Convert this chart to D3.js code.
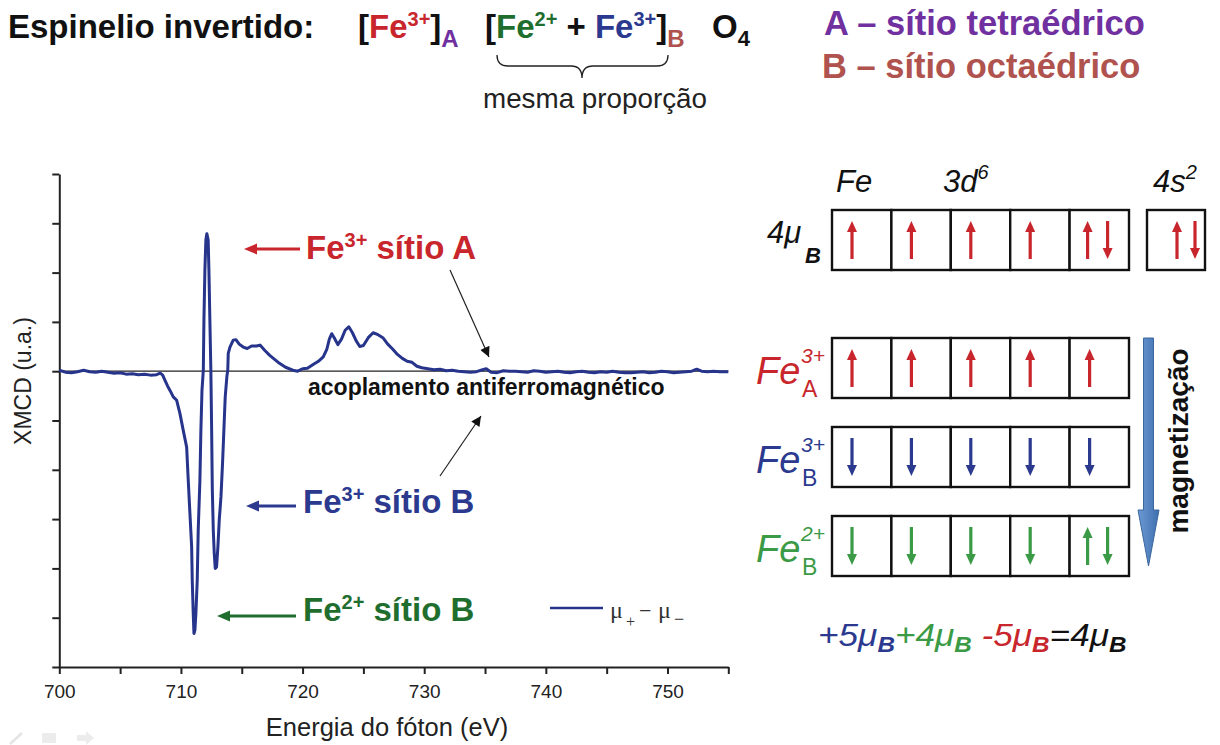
<!DOCTYPE html>
<html>
<head>
<meta charset="utf-8">
<script src="https://cdn.jsdelivr.net/npm/d3@7"></script>
<style>
  body { margin: 0; background: #fff; }
  svg { display: block; }
</style>
</head>
<body>
<svg id="fig" width="1220" height="745"></svg>
<script>
// ---- XMCD spectrum at the Fe L3 edge (photon energy in eV, dichroism in arbitrary units)
const energy = [
  700.0, 700.5, 701.0, 701.5, 702.0, 702.5, 703.0, 703.5, 704.0, 704.5,
  705.0, 705.5, 706.0, 706.5, 707.0, 707.5, 708.0, 708.3, 708.5, 708.68,
  708.9, 709.1, 709.37, 709.65, 709.92, 710.19, 710.47, 710.6, 710.74, 710.88,
  710.93, 711.01, 711.07, 711.15, 711.23, 711.34, 711.42, 711.56, 711.64, 711.73,
  711.84, 711.89, 711.97, 712.05, 712.13, 712.24, 712.3, 712.38, 712.46, 712.52,
  712.58, 712.66, 712.74, 712.82, 712.93, 713.04, 713.15, 713.29, 713.42, 713.53,
  713.64, 713.78, 713.85, 713.89, 714.03, 714.3, 714.52, 714.79, 715.12, 715.45,
  715.81, 716.22, 716.5, 716.9, 717.3, 717.7, 718.1, 718.6, 719.2, 719.6,
  720.0, 720.4, 720.9, 721.3, 721.7, 722.0, 722.2, 722.4, 722.6, 722.9,
  723.2, 723.5, 723.8, 724.1, 724.4, 724.7, 725.0, 725.4, 725.8, 726.2,
  726.6, 727.0, 727.4, 727.8, 728.2, 728.6, 729.0, 729.4, 729.8, 730.3,
  730.8, 731.3, 731.8, 732.3, 732.8, 733.3, 733.8, 734.3, 734.8, 735.1,
  735.5, 736.0, 736.5, 737.0, 737.5, 738.0, 738.5, 739.0, 739.5, 740.0,
  740.5, 741.0, 741.5, 742.0, 742.5, 743.0, 743.5, 744.0, 744.5, 745.0,
  745.5, 746.0, 746.5, 747.0, 747.5, 748.0, 748.5, 749.0, 749.5, 750.0,
  750.5, 751.0, 751.5, 752.0, 752.4, 752.8, 753.3, 753.8, 754.3, 755.0
];
const xmcd = [
  0.02, -0.02, -0.03, -0.01, 0.02, -0.01, -0.02, 0.00, -0.02, -0.04,
  -0.03, -0.06, -0.05, -0.07, -0.06, -0.08, -0.07, -0.04, -0.08, -0.18,
  -0.30, -0.39, -0.52, -0.59, -0.86, -1.20, -1.54, -2.21, -2.89, -3.56,
  -4.24, -4.91, -5.32, -5.25, -4.91, -4.24, -3.23, -2.21, -1.20, -0.39,
  0.02, 1.03, 2.05, 2.66, 2.79, 2.66, 2.05, 1.03, 0.02, -1.10,
  -2.40, -3.23, -3.70, -4.00, -3.97, -3.56, -3.02, -2.55, -1.87, -1.20,
  -0.52, -0.10, 0.02, 0.36, 0.49, 0.63, 0.64, 0.55, 0.49, 0.46,
  0.51, 0.51, 0.53, 0.42, 0.32, 0.24, 0.16, 0.08, 0.02, 0.00,
  0.05, 0.06, 0.14, 0.20, 0.29, 0.45, 0.65, 0.76, 0.68, 0.54,
  0.65, 0.83, 0.90, 0.78, 0.62, 0.50, 0.52, 0.68, 0.78, 0.74,
  0.68, 0.55, 0.45, 0.34, 0.26, 0.20, 0.18, 0.10, 0.07, 0.05,
  0.03, 0.04, 0.01, 0.02, 0.00, -0.01, -0.02, -0.01, 0.03, 0.05,
  -0.02, -0.03, 0.01, 0.00, 0.00, -0.01, -0.02, 0.01, 0.00, -0.02,
  -0.01, 0.00, -0.02, -0.03, -0.01, 0.00, -0.02, -0.03, -0.01, -0.02,
  0.00, -0.02, -0.03, -0.03, -0.02, -0.01, -0.03, -0.02, 0.00, -0.01,
  -0.03, -0.02, -0.01, 0.00, 0.04, 0.00, -0.01, 0.00, -0.01, -0.01
];
const xTickValues = [700, 705, 710, 715, 720, 725, 730, 735, 740, 745, 750, 755];
const xTickLabels = ["700", "", "710", "", "720", "", "730", "", "740", "", "750", ""];
const yTickValues = [-6, -5, -4, -3, -2, -1, 0, 1, 2, 3, 4];

// ---- orbital occupation (3d boxes), one array per ion
const orbitalSlots = [0, 1, 2, 3, 4];
const feAtomSpins = [["up"], ["up"], ["up"], ["up"], ["up", "down"]];
const fe4sSpins = ["up", "down"];
const ionLabels = [
  { sup: "3+", sub: "A" },
  { sup: "3+", sub: "B" },
  { sup: "2+", sub: "B" }
];
const ionSpins = [
  [["up"], ["up"], ["up"], ["up"], ["up"]],
  [["down"], ["down"], ["down"], ["down"], ["down"]],
  [["down"], ["down"], ["down"], ["down"], ["up", "down"]]
];
const momentTerms = ["+5μ", "+4μ", " -5μ", "=4μ"];

// ---- palette
const RED = "#c8262c", NAVY = "#2b3a8f", GREEN_DARK = "#1f6e2e", GREEN = "#3a9a45";
const PURPLE = "#7030a0", ROSE = "#b0524e", CURVE = "#27348b";
const ionColors = [RED, NAVY, GREEN];
const momentColors = [NAVY, GREEN, RED, "#111"];

const SANS = "'Liberation Sans', Arial, Helvetica, sans-serif";
const SERIF = "'Liberation Serif', 'Times New Roman', serif";

const svg = d3.select("#fig");

// text placed at (x, y), optionally stretched horizontally / rotated
function textAt(parent, x, y, o = {}) {
  const tr = `translate(${x},${y}) scale(${o.sx ?? 1},1)` + (o.rotate ? ` rotate(${o.rotate})` : "");
  return parent.append("g").attr("transform", tr).append("text")
    .attr("font-family", o.family || SANS)
    .attr("font-size", o.size || 16)
    .attr("font-weight", o.weight || "normal")
    .attr("font-style", o.style || "normal")
    .attr("fill", o.fill || "#111")
    .attr("text-anchor", o.anchor || "start");
}
function runs(t, parts) {
  parts.forEach(p => {
    const s = t.append("tspan").text(p.s);
    if (p.size) s.attr("font-size", p.size);
    if (p.fill) s.attr("fill", p.fill);
    if (p.dy) s.attr("dy", p.dy);
    if (p.weight) s.attr("font-weight", p.weight);
    if (p.style) s.attr("font-style", p.style);
  });
  return t;
}

// ================= header =================
textAt(svg, 8, 38, { size: 33, weight: "bold" }).text("Espinelio invertido:");
runs(textAt(svg, 358, 38, { size: 33, weight: "bold" }), [
  { s: "[" }, { s: "Fe", fill: RED }, { s: "3+", fill: RED, size: 20, dy: -12 },
  { s: "]", size: 33, dy: 12 }, { s: "A", fill: PURPLE, size: 24, dy: 9 }
]);
runs(textAt(svg, 485, 38, { size: 33, weight: "bold" }), [
  { s: "[" }, { s: "Fe", fill: GREEN_DARK }, { s: "2+", fill: GREEN_DARK, size: 20, dy: -12 },
  { s: " + ", size: 33, dy: 12 }, { s: "Fe", fill: NAVY }, { s: "3+", fill: NAVY, size: 20, dy: -12 },
  { s: "]", size: 33, dy: 12 }, { s: "B", fill: ROSE, size: 24, dy: 9 }
]);
runs(textAt(svg, 712, 38, { size: 33, weight: "bold" }), [
  { s: "O" }, { s: "4", size: 22, dy: 8 }
]);
svg.append("path")
  .attr("d", "M497,55 Q497,66 508,66 L571,66 Q582,66 582,78 Q582,66 593,66 L657,66 Q668,66 668,55")
  .attr("fill", "none").attr("stroke", "#222").attr("stroke-width", 1.3);
textAt(svg, 483, 108, { size: 27, fill: "#222", sx: 1.03 }).text("mesma proporção");
textAt(svg, 824, 35, { size: 34.5, weight: "bold", fill: PURPLE }).text("A – sítio tetraédrico");
textAt(svg, 822, 78, { size: 34.5, weight: "bold", fill: ROSE }).text("B – sítio octaédrico");

// ================= XMCD plot =================
const x = d3.scaleLinear().domain([700, 755]).range([59.3, 728.3]);
const y = d3.scaleLinear().domain([-6, 4]).range([667, 174]);
const plot = svg.append("g");

const xAxis = plot.append("g").attr("transform", `translate(0,${y(-6)})`)
  .call(d3.axisBottom(x).tickValues(xTickValues).tickSize(7).tickSizeOuter(0).tickPadding(11)
    .tickFormat((d, i) => xTickLabels[i]));
const yAxis = plot.append("g").attr("transform", `translate(${x(700)},0)`)
  .call(d3.axisLeft(y).tickValues(yTickValues).tickSize(7).tickSizeOuter(0).tickFormat(""));
[xAxis, yAxis].forEach(a => {
  a.select(".domain").attr("stroke", "#222").attr("stroke-width", 2);
  a.selectAll(".tick line").attr("stroke", "#222").attr("stroke-width", 2);
});
xAxis.selectAll(".tick text")
  .attr("font-family", SANS).attr("font-size", 19).attr("fill", "#222");

// zero line
plot.append("line")
  .attr("x1", x(700)).attr("x2", x(755)).attr("y1", y(0)).attr("y2", y(0))
  .attr("stroke", "#222").attr("stroke-width", 1.3);

// spectrum
const pts = energy.map((e, i) => [e, xmcd[i]]);
plot.append("path").datum(pts)
  .attr("d", d3.line().x(d => x(d[0])).y(d => y(d[1])))
  .attr("fill", "none").attr("stroke", CURVE).attr("stroke-width", 3)
  .attr("stroke-linejoin", "round");

// axis titles
textAt(svg, 387, 736, { size: 25, anchor: "middle", fill: "#222", sx: 1.02 }).text("Energia do fóton (eV)");
textAt(svg, 31, 381, { size: 23, anchor: "middle", fill: "#222", rotate: -90, sx: 1.05 }).text("XMCD (u.a.)");

// colored pointer arrows with site labels
function pointer(x1, x2, yy, color) {
  svg.append("line").attr("x1", x1).attr("x2", x2 + 9).attr("y1", yy).attr("y2", yy)
    .attr("stroke", color).attr("stroke-width", 2.8);
  svg.append("path").attr("d", `M${x2},${yy} L${x2 + 13},${yy - 5.5} L${x2 + 13},${yy + 5.5} Z`).attr("fill", color);
}
pointer(300, 244, 249, RED);
pointer(296, 246, 506, NAVY);
pointer(296, 217, 616, GREEN_DARK);
function siteLabel(xx, yy, charge, site, color) {
  runs(textAt(svg, xx, yy, { size: 33, weight: "bold", fill: color }), [
    { s: "Fe" }, { s: charge, size: 20, dy: -12 }, { s: " sítio " + site, size: 33, dy: 12 }
  ]);
}
siteLabel(306, 259, "3+", "A", RED);
siteLabel(303, 513, "3+", "B", NAVY);
siteLabel(303, 621, "2+", "B", GREEN_DARK);

// coupling note with thin black pointers
textAt(svg, 308, 395, { size: 23, weight: "bold", fill: "#111" }).text("acoplamento antiferromagnético");
const defs = svg.append("defs");
defs.append("marker").attr("id", "tip").attr("viewBox", "0 0 10 10").attr("refX", 10).attr("refY", 5)
  .attr("markerWidth", 12).attr("markerHeight", 10).attr("markerUnits", "userSpaceOnUse")
  .attr("orient", "auto")
  .append("path").attr("d", "M0,0 L10,5 L0,10 Z").attr("fill", "#111");
svg.append("line").attr("x1", 450).attr("y1", 270).attr("x2", 489).attr("y2", 357)
  .attr("stroke", "#222").attr("stroke-width", 1.2).attr("marker-end", "url(#tip)");
svg.append("line").attr("x1", 440).attr("y1", 476).attr("x2", 481).attr("y2", 416)
  .attr("stroke", "#222").attr("stroke-width", 1.2).attr("marker-end", "url(#tip)");

// legend
svg.append("line").attr("x1", 550).attr("x2", 603).attr("y1", 608).attr("y2", 608)
  .attr("stroke", CURVE).attr("stroke-width", 2.5);
const lg = svg.append("g").attr("font-family", SERIF).attr("fill", "#333");
lg.append("text").attr("x", 610).attr("y", 618).attr("font-size", 24).text("μ");
lg.append("text").attr("x", 626).attr("y", 627).attr("font-size", 16).text("+");
lg.append("text").attr("x", 639).attr("y", 618).attr("font-size", 22).text("−");
lg.append("text").attr("x", 658).attr("y", 618).attr("font-size", 24).text("μ");
lg.append("text").attr("x", 674).attr("y", 625).attr("font-size", 18).text("−");

// ================= orbital diagram =================
const col = d3.scaleBand().domain(orbitalSlots).range([832, 1129]);
const BOX_H = 60;

function spin(g, cx, dir, top, color) {
  const y1 = top + 11, y2 = top + 49;
  const tipY = dir === "up" ? y1 : y2;
  const tailY = dir === "up" ? y2 : y1;
  const baseY = dir === "up" ? tipY + 11 : tipY - 11;
  g.append("line").attr("x1", cx).attr("x2", cx).attr("y1", tailY).attr("y2", baseY)
    .attr("stroke", color).attr("stroke-width", 3.2);
  g.append("path").attr("d", `M${cx},${tipY} L${cx - 5},${baseY} L${cx + 5},${baseY} Z`).attr("fill", color);
}
function boxRow(top, spins, color) {
  const g = svg.append("g");
  orbitalSlots.forEach(i => {
    const left = col(i);
    g.append("rect").attr("x", left).attr("y", top).attr("width", col.bandwidth()).attr("height", BOX_H)
      .attr("fill", "#fff").attr("stroke", "#111").attr("stroke-width", 2.4);
    const s = spins[i];
    if (s.length === 1) spin(g, left + 20, s[0], top, color);
    else { spin(g, left + 18, s[0], top, color); spin(g, left + 38, s[1], top, color); }
  });
  return g;
}

// neutral Fe: 3d6 4s2
textAt(svg, 836, 192, { size: 31, style: "italic" }).text("Fe");
runs(textAt(svg, 943, 192, { size: 31, style: "italic" }), [{ s: "3d" }, { s: "6", size: 20, dy: -13 }]);
runs(textAt(svg, 1153, 192, { size: 31, style: "italic" }), [{ s: "4s" }, { s: "2", size: 20, dy: -13 }]);
textAt(svg, 767, 243, { size: 31, style: "italic" }).text("4μ");
textAt(svg, 805, 263, { size: 22, style: "italic", weight: "bold" }).text("B");
boxRow(210, feAtomSpins, RED);
const s4 = svg.append("g");
s4.append("rect").attr("x", 1147).attr("y", 210).attr("width", 58).attr("height", BOX_H)
  .attr("fill", "#fff").attr("stroke", "#111").attr("stroke-width", 2.4);
spin(s4, 1147 + 30, fe4sSpins[0], 210, RED);
spin(s4, 1147 + 48, fe4sSpins[1], 210, RED);

// ions in the inverse spinel
ionLabels.forEach((lab, r) => {
  const top = 338 + r * 89;
  const c = ionColors[r];
  textAt(svg, 756, top + 46, { size: 38, style: "italic", fill: c }).text("Fe");
  textAt(svg, 801, top + 25, { size: 21, style: "italic", fill: c }).text(lab.sup);
  textAt(svg, 802, top + 59, { size: 23, fill: c }).text(lab.sub);
  boxRow(top, ionSpins[r], c);
});

// magnetization arrow
const grad = defs.append("linearGradient").attr("id", "mag").attr("x1", 0).attr("x2", 1).attr("y1", 0).attr("y2", 0);
grad.append("stop").attr("offset", 0).attr("stop-color", "#6c9ad3");
grad.append("stop").attr("offset", 1).attr("stop-color", "#3e6fae");
svg.append("path")
  .attr("d", "M1143.5,338 L1153.5,338 L1153.5,510 L1159,510 L1148.5,566 L1138,510 L1143.5,510 Z")
  .attr("fill", "url(#mag)").attr("stroke", "#3b679f").attr("stroke-width", 1);
textAt(svg, 1188, 441, { size: 28, weight: "bold", anchor: "middle", rotate: -90, sx: 1.0 }).text("magnetização");

// net moment balance
const mt = textAt(svg, 818, 646, { size: 32, style: "italic", sx: 1.1 });
momentTerms.forEach((term, i) => {
  const c = momentColors[i];
  mt.append("tspan").text(term).attr("fill", c).attr("font-size", 32).attr("dy", i === 0 ? 0 : -6);
  mt.append("tspan").text("B").attr("fill", c).attr("font-size", 22).attr("font-weight", "bold").attr("dy", 6);
});

// faint slide controls in the corner
const ctl = svg.append("g").attr("stroke", "#e4e4e4").attr("fill", "none").attr("stroke-width", 2.5);
ctl.append("line").attr("x1", 10).attr("y1", 744).attr("x2", 22).attr("y2", 733);
ctl.append("rect").attr("x", 42).attr("y", 733).attr("width", 14).attr("height", 10).attr("fill", "#ececec").attr("stroke", "none");
ctl.append("path").attr("d", "M77,735 L86,735 L86,731 L94,738 L86,745 L86,741 L77,741 Z").attr("fill", "#ececec").attr("stroke", "none");
</script>
</body>
</html>
